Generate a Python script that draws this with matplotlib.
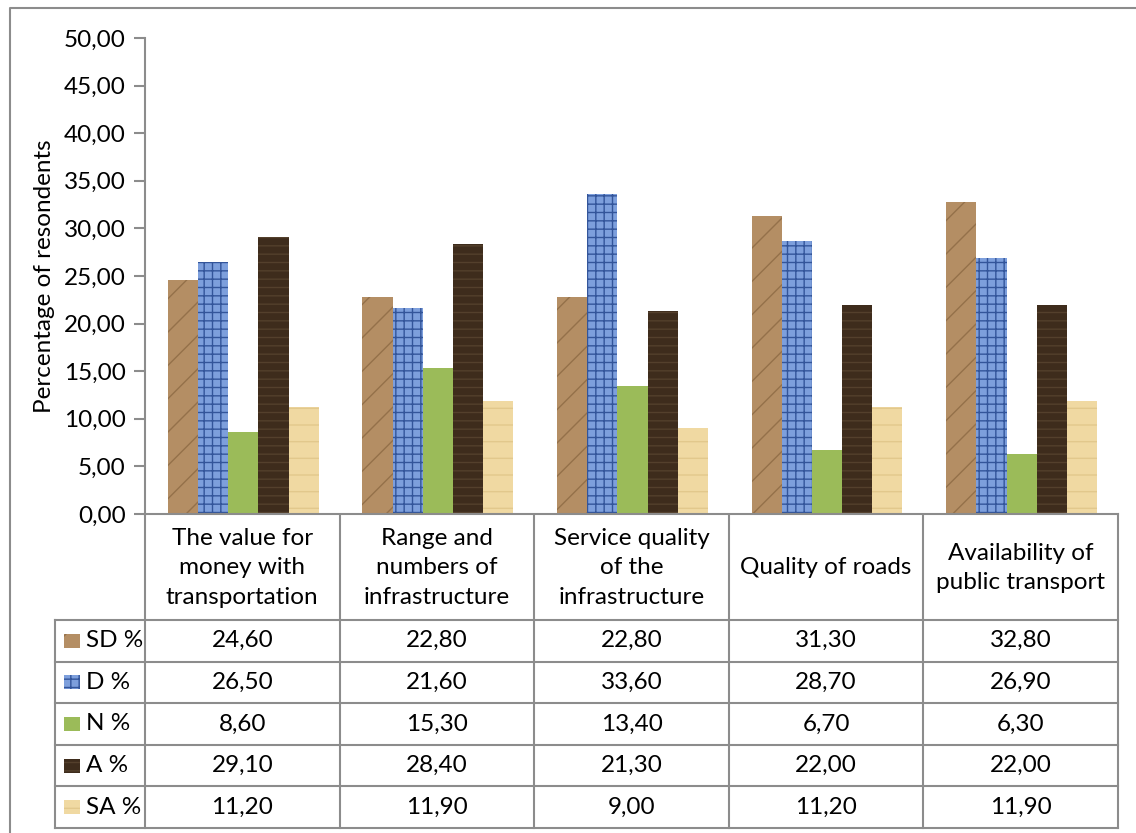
import matplotlib.pyplot as plt
import numpy as np

plt.rcParams['font.family'] = ['Lato', 'DejaVu Sans']
plt.rcParams['hatch.linewidth'] = 1.0

categories = ['The value for\nmoney with\ntransportation',
              'Range and\nnumbers of\ninfrastructure',
              'Service quality\nof the\ninfrastructure',
              'Quality of roads',
              'Availability of\npublic transport']
series = ['SD %', 'D %', 'N %', 'A %', 'SA %']
sd = [24.6, 22.8, 22.8, 31.3, 32.8]
d = [26.5, 21.6, 33.6, 28.7, 26.9]
n = [8.6, 15.3, 13.4, 6.7, 6.3]
a = [29.1, 28.4, 21.3, 22.0, 22.0]
sa = [11.2, 11.9, 9.0, 11.2, 11.9]
values = [sd, d, n, a, sa]
yticks = np.arange(0, 51, 5)

# fill, hatch colour, hatch pattern (stand-ins for the Excel textures)
styles = [('#b48e64', '#94714a', '/'),
          ('#7d9fdc', '#33559a', '++'),
          ('#9bbb59', '#9bbb59', None),
          ('#3e2c1c', '#54402c', '--'),
          ('#f0d9a2', '#e2c88c', '-')]

W, H = 1136, 833
fig = plt.figure(figsize=(W / 100, H / 100), dpi=100)
grey = '#8c8c8c'
fs = 17.5

x0, x1, y0, y1 = 145, 1118, 514, 38
ax = fig.add_axes([x0 / W, 1 - y0 / H, (x1 - x0) / W, (y0 - y1) / H])
x = np.arange(len(categories))
bw = 0.155
for i, (vals, st) in enumerate(zip(values, styles)):
    ax.bar(x + (i - 2) * bw + 0.005, vals, bw, color=st[0], edgecolor=st[1],
           hatch=st[2], linewidth=0)
ax.set_xlim(-0.5, len(categories) - 0.5)
ax.set_ylim(0, 50)
ax.set_yticks(yticks)
ax.set_yticklabels([f'{t:.2f}'.replace('.', ',') for t in yticks], fontsize=fs)
ax.set_xticks([])
for s in ['top', 'right']:
    ax.spines[s].set_visible(False)
for s in ['left', 'bottom']:
    ax.spines[s].set_color(grey)
    ax.spines[s].set_linewidth(1.5)
ax.tick_params(axis='y', length=8, width=1.5, color=grey, pad=6)
ax.set_ylabel('Percentage of resondents', fontsize=fs, labelpad=6)

# overlay in pixel coordinates for the data table and frame
ov = fig.add_axes([0, 0, 1, 1], zorder=-1)
ov.set_xlim(0, W)
ov.set_ylim(H, 0)
ov.axis('off')
ov.plot([10, 10, W], [H, 8, 8], color=grey, lw=1.5)

colw = (x1 - x0) / len(categories)
row_top = 620
rh = 41.6
lab_x = 55
for k in range(len(categories) + 1):
    xx = x0 + k * colw
    ov.plot([xx, xx], [y0, row_top + rh * len(series)], color=grey, lw=1.5)
ov.plot([lab_x, lab_x], [row_top, row_top + rh * len(series)], color=grey, lw=1.5)
for r in range(len(series) + 1):
    yy = row_top + r * rh
    ov.plot([lab_x, x1], [yy, yy], color=grey, lw=1.5)

for k, cat in enumerate(categories):
    ov.text(x0 + (k + 0.5) * colw, (y0 + row_top) / 2 + 1, cat, ha='center',
            va='center', fontsize=fs, linespacing=1.5)

for r, (name, vals, st) in enumerate(zip(series, values, styles)):
    yc = row_top + (r + 0.5) * rh
    ov.add_patch(plt.Rectangle((64, yc - 7), 16, 14, facecolor=st[0],
                               edgecolor=st[1], hatch=st[2], lw=0))
    ov.text(86, yc, name, ha='left', va='center', fontsize=fs)
    for k, v in enumerate(vals):
        ov.text(x0 + (k + 0.5) * colw, yc, f'{v:.2f}'.replace('.', ','),
                ha='center', va='center', fontsize=fs)

fig.savefig('out.png', dpi=100)
